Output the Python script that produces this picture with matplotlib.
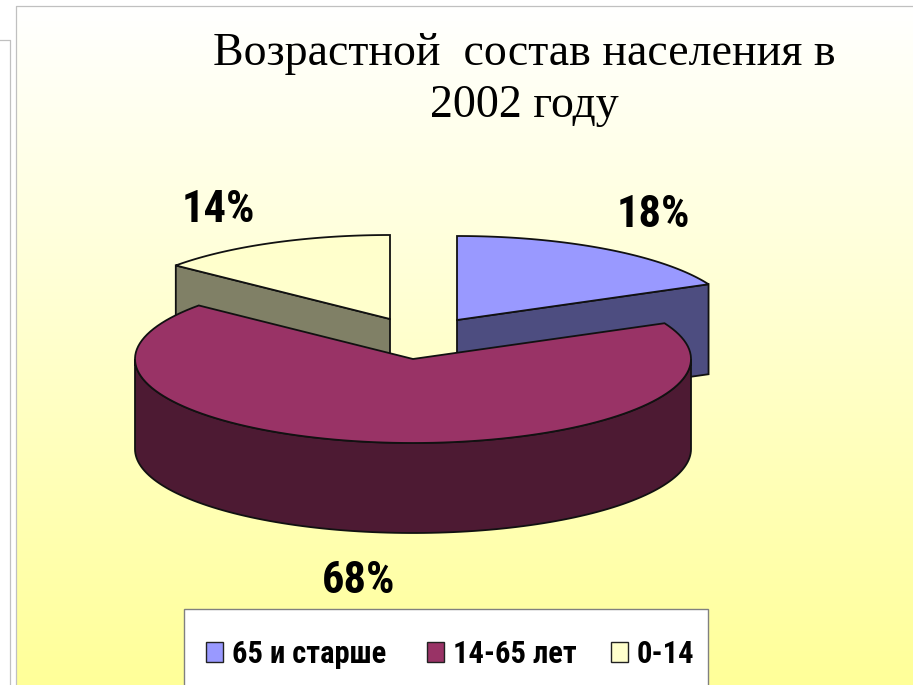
import matplotlib
matplotlib.use('Agg')
import matplotlib.pyplot as plt
import numpy as np
import logging
from matplotlib.patches import Polygon, Rectangle

logging.getLogger('matplotlib.font_manager').setLevel(logging.ERROR)

title_lines = ['Возрастной  состав населения в', '2002 году']
categories = ['65 и старше', '14-65 лет', '0-14']
values = [18, 68, 14]
top_colors = ['#9999FF', '#993366', '#FFFFCC']
side_colors = ['#4D4D80', '#4D1A33', '#808066']

# pie geometry in picture pixels
RX, RY, DEPTH = 278, 84, 90
apexes = [(457, 320), (413, 359), (390, 319)]
label_pos = [(653, 215), (359, 581), (218, 210)]
legend_square_x = [206, 427, 611]
legend_text_x = [232, 453, 637]
NARROW = ['Roboto Condensed', 'Liberation Sans Narrow', 'Roboto']


def rim(apex, a0, a1, dy=0):
    t = np.radians(np.linspace(a0, a1, 120))
    return np.column_stack([apex[0] + RX * np.cos(t), apex[1] + dy - RY * np.sin(t)])


def cut_face(ax, apex, angle, color):
    p = rim(apex, angle, angle)[0]
    pts = [apex, p, (p[0], p[1] + DEPTH), (apex[0], apex[1] + DEPTH)]
    ax.add_patch(Polygon(pts, fc=color, ec='#111111', lw=1.3))


def draw_slice(ax, i, a0, a1):
    apex = apexes[i]
    if i == 0:
        cut_face(ax, apex, a0, side_colors[i])
    if i == 2:
        cut_face(ax, apex, a1, side_colors[i])
    # outer wall, only the front half of the ellipse shows
    lo, hi = max(a0, -180), min(a1, 0)
    if lo < hi:
        pts = np.vstack([rim(apex, lo, hi), rim(apex, hi, lo, DEPTH)])
        ax.add_patch(Polygon(pts, fc=side_colors[i], ec='#111111', lw=1.3))
    pts = np.vstack([[apex], rim(apex, a0, a1)])
    ax.add_patch(Polygon(pts, fc=top_colors[i], ec='#111111', lw=1.3))


def main():
    fig = plt.figure(figsize=(9.13, 6.85), dpi=100, facecolor='white')
    ax = fig.add_axes([0, 0, 1, 1])
    ax.set_xlim(0, 913)
    ax.set_ylim(685, 0)
    ax.axis('off')

    # neighbouring panel at the left edge
    ax.plot([0, 10, 10], [40, 40, 685], color='#C0C0C0', lw=0.9)

    # slide background
    grad = np.linspace(0, 1, 256)[:, None, None]
    white = np.array([1, 1, 1])[None, None, :]
    yellow = np.array([1, 1, 0.6])[None, None, :]
    ax.imshow(white + (yellow - white) * grad, extent=(16, 913, 685, 6), aspect='auto', zorder=0)
    ax.set_xlim(0, 913)
    ax.set_ylim(685, 0)
    ax.plot([16, 16, 913], [685, 6, 6], color='#C0C0C0', lw=0.9)

    for line, y in zip(title_lines, [54, 106]):
        ax.text(524, y, line, ha='center', va='center', fontsize=33, family='Liberation Serif',
                color='black')

    # angles run clockwise from 12 o'clock
    stops = 90 - np.cumsum([0] + values) * 3.6
    spans = [(stops[i + 1], stops[i]) for i in range(3)]
    for i in [2, 0, 1]:
        draw_slice(ax, i, *spans[i])

    for v, (x, y) in zip(values, label_pos):
        ax.text(x, y, f'{v}%', ha='center', va='center', fontsize=32, fontweight='bold',
                family=NARROW, color='black')

    # legend
    ax.add_patch(Rectangle((184, 609), 524, 90, fc='white', ec='#808080', lw=1))
    for name, c, sx, tx in zip(categories, top_colors, legend_square_x, legend_text_x):
        ax.add_patch(Rectangle((sx, 642), 17, 20, fc=c, ec='#222222', lw=1))
        ax.text(tx, 654, name, ha='left', va='center', fontsize=22, fontweight='bold',
                family=NARROW, color='black')

    fig.savefig('out.png', dpi=100)


if __name__ == "__main__":
    main()
